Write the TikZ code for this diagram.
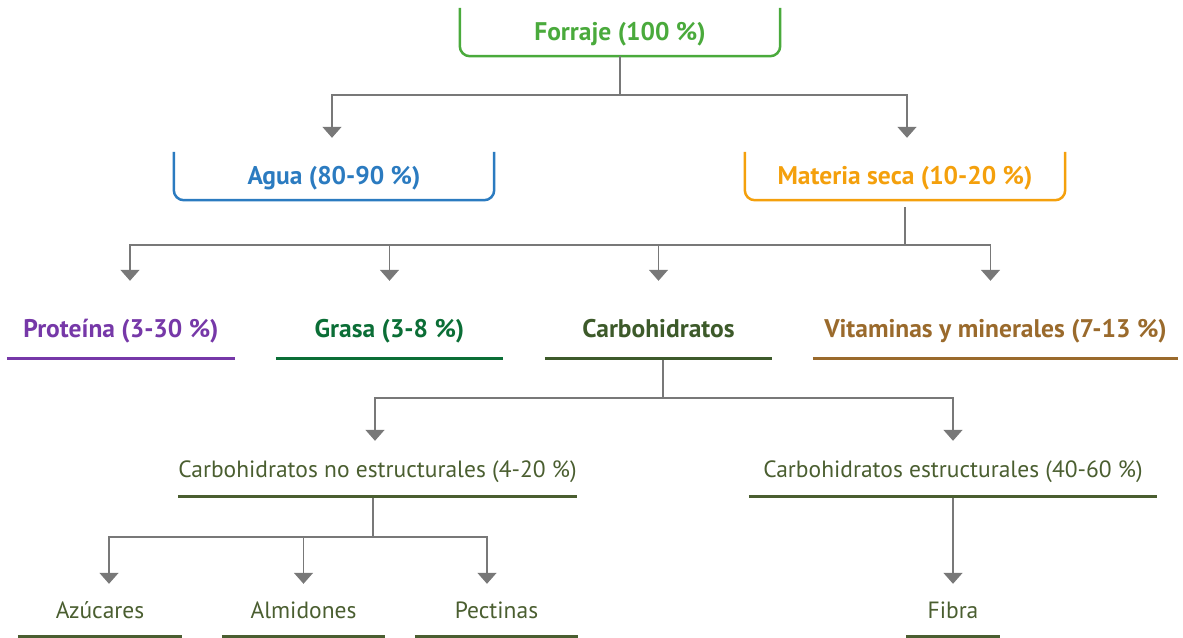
\documentclass[tikz,border=0pt]{standalone}
\usepackage{fontspec}
\setmainfont{PT Sans}
\usetikzlibrary{arrows.meta,positioning}
\definecolor{verde}{HTML}{4AAA3C}
\definecolor{azul}{HTML}{2B7BC0}
\definecolor{naranja}{HTML}{F4A00C}
\definecolor{morado}{HTML}{7638A8}
\definecolor{verdeosc}{HTML}{0B6E36}
\definecolor{oliva}{HTML}{3D5A2A}
\definecolor{olivaclaro}{HTML}{4A5E30}
\definecolor{cafe}{HTML}{9A6A2C}
\definecolor{gris}{HTML}{787878}
\begin{document}
\begin{tikzpicture}[x=1pt,y=-1pt] % one unit = one pixel, y grows downwards
\tikzset{every node/.style={inner sep=0pt, text height=20pt, text depth=4pt, font=\fontsize{25.5}{30}\selectfont\bfseries}} % bold labels by default
\tikzset{caja/.style={minimum width=320pt, minimum height=48pt, text=#1}} % boxes open at the top
\tikzset{raya/.style={minimum width=#1, minimum height=58pt}} % underlined labels
\tikzset{sub/.style={font=\fontsize{23.5}{28}\selectfont, text=olivaclaro}} % lower levels are not bold
\tikzset{linea/.style={draw=gris, line width=1.5pt}}
\tikzset{flecha/.style={linea, -{Triangle[width=19pt,length=11pt]}, shorten >=#1}}
\useasboundingbox (0,0) rectangle (1183,637);
% level 1 and 2
\node[caja=verde] (forraje) at (620,32) {Forraje (100 \%)};
\node[caja=azul] (agua) at (334,176) {Agua (80-90 \%)};
\node[caja=naranja] (materia) at (905,176) {Materia seca (10-20 \%)};
\foreach \n/\c in {forraje/verde, agua/azul, materia/naranja}
  \draw[\c, line width=2.5pt, rounded corners=10pt] (\n.north west) -- (\n.south west) -- (\n.south east) -- (\n.north east);
% level 3
\node[raya=228pt, text=morado] (prot) at (121,329) {Proteína (3-30 \%)};
\node[raya=227pt, text=verdeosc] (grasa) at (389.5,329) {Grasa (3-8 \%)};
\node[raya=227pt, text=oliva] (carbo) at (658.5,329) {Carbohidratos};
\node[raya=365pt, text=cafe] (vitam) at (995.5,329) {Vitaminas y minerales (7-13 \%)};
% level 4 and 5
\node[raya=393pt, sub, minimum height=54pt] (noestr) at (377.5,469) {Carbohidratos no estructurales (4-20 \%)};
\node[raya=408pt, sub, minimum height=54pt] (estr) at (953,469) {Carbohidratos estructurales (40-60 \%)};
\node[raya=164pt, sub, minimum height=52pt] (azu) at (100,610) {Azúcares};
\node[raya=163pt, sub, minimum height=52pt] (almi) at (303.5,610) {Almidones};
\node[raya=163pt, sub, minimum height=52pt] (pect) at (496.5,610) {Pectinas};
\node[raya=93pt, sub, minimum height=52pt] (fibra) at (953,610) {Fibra};
\foreach \n/\c in {prot/morado, grasa/verdeosc, carbo/oliva, vitam/cafe, noestr/olivaclaro, estr/olivaclaro, azu/olivaclaro, almi/olivaclaro, pect/olivaclaro, fibra/olivaclaro}
  \draw[\c, line width=3pt] (\n.south west) -- (\n.south east);
% connectors
\coordinate (b1) at (620,95);
\draw[linea] (forraje.south) -- (b1);
\draw[flecha=14pt] (b1) -| ([xshift=-2pt]agua.north);
\draw[flecha=14pt] (b1) -| ([xshift=2pt]materia.north);
\coordinate (b2) at (905,245);
\draw[linea] ([yshift=-7pt]materia.south) -- (b2);
\draw[flecha=19pt] (b2) -| ([xshift=9pt]prot.north);
\draw[flecha=19pt] (b2) -| (grasa.north);
\draw[flecha=19pt] (b2) -| (carbo.north);
\draw[flecha=19pt] (b2) -| ([xshift=-5pt]vitam.north);
\coordinate (b3) at (663,398);
\draw[linea] ([xshift=4.5pt,yshift=-1.5pt]carbo.south) -- (b3);
\draw[flecha=1pt] (b3) -| ([xshift=-2.5pt]noestr.north);
\draw[flecha=1pt] (b3) -| (estr.north);
\coordinate (b4) at (373,537);
\draw[linea] ([xshift=-4.5pt,yshift=-1.5pt]noestr.south) -- (b4);
\draw[flecha=0pt] (b4) -| ([xshift=9pt]azu.north);
\draw[flecha=0pt] (b4) -| (almi.north);
\draw[flecha=0pt] (b4) -| ([xshift=-9.5pt]pect.north);
\draw[flecha=0pt] ([yshift=-1.5pt]estr.south) -- (fibra.north);
\end{tikzpicture}
\end{document}
